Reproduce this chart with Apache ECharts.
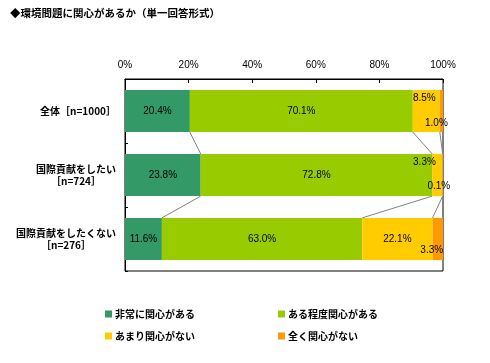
<!DOCTYPE html>
<html><head><meta charset="utf-8">
<script src="https://cdn.jsdelivr.net/npm/echarts@6/dist/echarts.min.js"></script>
<style>html,body{margin:0;padding:0;background:#fff}#c{width:490px;height:363px}</style>
</head><body><div id="c"></div>
<script>
const titleText = '◆環境問題に関心があるか（単一回答形式）';
const categories = ['全体［n=1000］', '国際貢献をしたい\n［n=724］', '国際貢献をしたくない\n［n=276］'];
const seriesNames = ['非常に関心がある', 'ある程度関心がある', 'あまり関心がない', '全く関心がない'];
const veryInterested = [20.4, 23.8, 11.6];
const somewhatInterested = [70.1, 72.8, 63.0];
const notVeryInterested = [8.5, 3.3, 22.1];
const notAtAll = [1.0, 0.1, 3.3];
const tickValues = [0, 20, 40, 60, 80, 100];

const seriesValues = [veryInterested, somewhatInterested, notVeryInterested, notAtAll];
const colors = ['#339966', '#99CC00', '#FFCC00', '#FF9900'];
// label offsets (style only) for small segments
const labelOffsets = [
  [null, null, null],
  [null, null, null],
  [[-2, -13], [-13, -13], null],
  [[-5, 12], [-4, 11], [-6, 11]]
];

const CJK = '"Noto Sans CJK JP", sans-serif';
const NUM = '"Liberation Sans", "Noto Sans CJK JP", sans-serif';

// y-axis label rich styles: center lines within a right-aligned block
const ctx = document.createElement('canvas').getContext('2d');
ctx.font = 'bold 10px ' + CJK;
const rich = {};
categories.forEach((c, i) => {
  const w = Math.max(...c.split('\n').map(s => ctx.measureText(s).width));
  rich['r' + i] = {width: Math.ceil(w), align: 'center', fontSize: 10, fontWeight: 'bold', fontFamily: CJK, color: '#000', lineHeight: 12};
});

// connector lines between bars (cumulative boundaries)
const cum = categories.map((_, i) => {
  let s = 0; return seriesValues.map(v => (s += v[i]));
});
const links = [];
for (let i = 0; i < categories.length - 1; i++) {
  for (let k = 0; k < seriesValues.length; k++) {
    links.push([cum[i][k], cum[i + 1][k], i]);
  }
}
const GAP = 0.34;

const chart = echarts.init(document.getElementById('c'), null, {renderer: 'canvas'});
const barSeries = seriesNames.map((name, si) => ({
  name, type: 'bar', stack: 'total', barCategoryGap: (GAP * 100) + '%',
  itemStyle: {color: colors[si]},
  z: 3,
  label: {show: true, position: 'inside', color: '#000', fontSize: 10, fontFamily: NUM,
    formatter: p => p.value.toFixed(1) + '%'},
  data: seriesValues[si].map((v, ci) => {
    const off = labelOffsets[si][ci];
    return off ? {value: v, label: {offset: off}} : v;
  })
}));

chart.setOption({
  animation: false,
  title: {text: titleText, left: 5, top: 3,
    textStyle: {fontSize: 10.5, fontWeight: 'bold', fontFamily: CJK, color: '#000'}},
  grid: {left: 125, right: 47, top: 79, bottom: 92, show: true, borderColor: '#000', borderWidth: 1},
  legend: [
    {data: [seriesNames[0], seriesNames[2]], orient: 'vertical', left: 100, top: 304,
      itemWidth: 7, itemHeight: 7, itemGap: 12, icon: 'rect',
      textStyle: {fontSize: 10, fontWeight: 'bold', fontFamily: CJK, color: '#000', padding: [0, 0, 0, -2]}},
    {data: [seriesNames[1], seriesNames[3]], orient: 'vertical', left: 273, top: 304,
      itemWidth: 7, itemHeight: 7, itemGap: 12, icon: 'rect',
      textStyle: {fontSize: 10, fontWeight: 'bold', fontFamily: CJK, color: '#000', padding: [0, 0, 0, -2]}}
  ],
  xAxis: {type: 'value', position: 'top', min: tickValues[0], max: tickValues[tickValues.length - 1], interval: 20,
    axisLine: {show: true, lineStyle: {color: '#000'}},
    axisTick: {show: true, inside: true, length: 4, lineStyle: {color: '#000'}},
    splitLine: {show: false},
    axisLabel: {formatter: '{value}%', color: '#000', fontSize: 10, fontFamily: NUM, margin: 9}},
  yAxis: {type: 'category', inverse: true, data: categories,
    axisLine: {show: true, lineStyle: {color: '#000'}},
    axisTick: {show: true, inside: true, length: 3, lineStyle: {color: '#000'}},
    axisLabel: {margin: 9, align: 'right', rich,
      formatter: (v, i) => v.split('\n').map(s => '{r' + i + '|' + s + '}').join('\n')}},
  series: [
    ...barSeries,
    {type: 'custom', z: 1, silent: true, encode: {x: [0, 1], y: 2},
      renderItem: (params, api) => {
        const c = api.value(2);
        const p0 = api.coord([api.value(0), c]);
        const p1 = api.coord([api.value(1), c + 1]);
        const half = api.size([0, 1])[1] * (1 - GAP) / 2;
        return {type: 'line', shape: {x1: p0[0], y1: p0[1] + half, x2: p1[0], y2: p1[1] - half},
          style: {stroke: '#808080', lineWidth: 1}};
      },
      data: links}
  ]
});
</script></body></html>
